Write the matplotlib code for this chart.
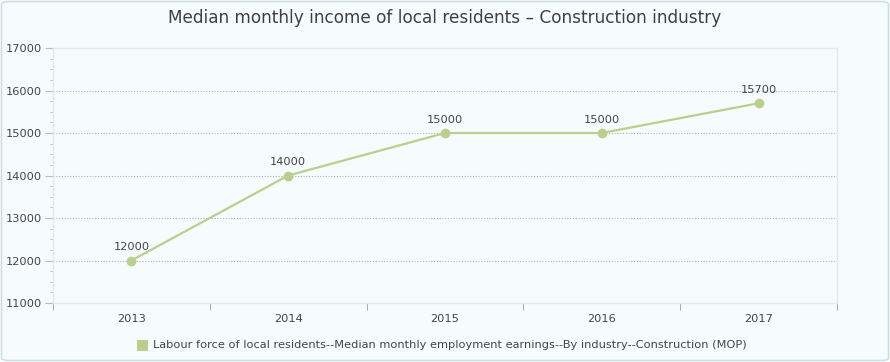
import matplotlib
matplotlib.use("Agg")
import matplotlib.pyplot as plt
from matplotlib.patches import FancyBboxPatch
from matplotlib.ticker import MultipleLocator
import numpy as np

years = ["2013", "2014", "2015", "2016", "2017"]
values = [12000, 14000, 15000, 15000, 15700]
series_name = "Labour force of local residents--Median monthly employment earnings--By industry--Construction (MOP)"
title = "Median monthly income of local residents \u2013 Construction industry"

plt.rcParams['font.family'] = ['DejaVu Sans']

W, H = 890, 362
fig = plt.figure(figsize=(W/100, H/100), dpi=100)
fig.patch.set_facecolor("white")

# background with rounded border
bg = FancyBboxPatch((1.5/W, 1.5/H), (W-3)/W, (H-3)/H,
                    boxstyle="round,pad=0,rounding_size=0.008",
                    transform=fig.transFigure, facecolor="#f6fcfe",
                    edgecolor="#cfdde3", linewidth=1.2, zorder=-10)
fig.patches.append(bg)

ax = fig.add_axes([53/W, 1-303/H, (837-53)/W, (303-48)/H])
ax.set_facecolor("none")
ax.set_zorder(5)
color = "#b8cf8d"
x = np.arange(len(years))
ax.plot(x, values, color=color, lw=1.6, marker="o", ms=6, zorder=3, clip_on=False)
for xi, v in zip(x, values):
    ax.annotate(f"{v}", (xi, v), xytext=(0, 6), textcoords="offset points",
                ha="center", va="bottom", fontsize=8.2, color="#444444")

ax.set_xlim(-0.5, len(years)-0.5)
ax.set_ylim(11000, 17000)
ax.yaxis.set_major_locator(MultipleLocator(1000))
ax.yaxis.set_minor_locator(MultipleLocator(250))
ax.set_xticks(x)
ax.set_xticklabels(years)
ax.set_xticks(np.arange(-0.5, len(years)), minor=True)
ax.tick_params(axis="x", which="major", length=0, pad=8, labelsize=8.2, labelcolor="#444444")
ax.tick_params(axis="x", which="minor", length=5, color="#999999", direction="out")
ax.tick_params(axis="y", which="major", length=6, color="#bbbbbb", labelsize=8.2, labelcolor="#444444", pad=2)
ax.tick_params(axis="y", which="minor", length=2.5, color="#bbbbbb")

for yv in range(12000, 17000, 1000):
    ax.axhline(yv, color="#b0b0b0", lw=0.8, ls=(0, (1, 1.5)), zorder=1)
for s in ["left", "bottom", "top", "right"]:
    ax.spines[s].set_color("#e4e8ea")
    ax.spines[s].set_linewidth(1)

fig.text(0.5, 1-18/H, title, ha="center", va="center", fontsize=12.2, color="#404040")

# legend
fig.patches.append(plt.Rectangle((137/W, 1-351/H), 11/W, 11/H, transform=fig.transFigure,
                                 facecolor=color, edgecolor="none"))
fig.text(153/W, 1-345/H, series_name, ha="left", va="center", fontsize=8.2, color="#444444")

fig.savefig("out.png", dpi=100)
